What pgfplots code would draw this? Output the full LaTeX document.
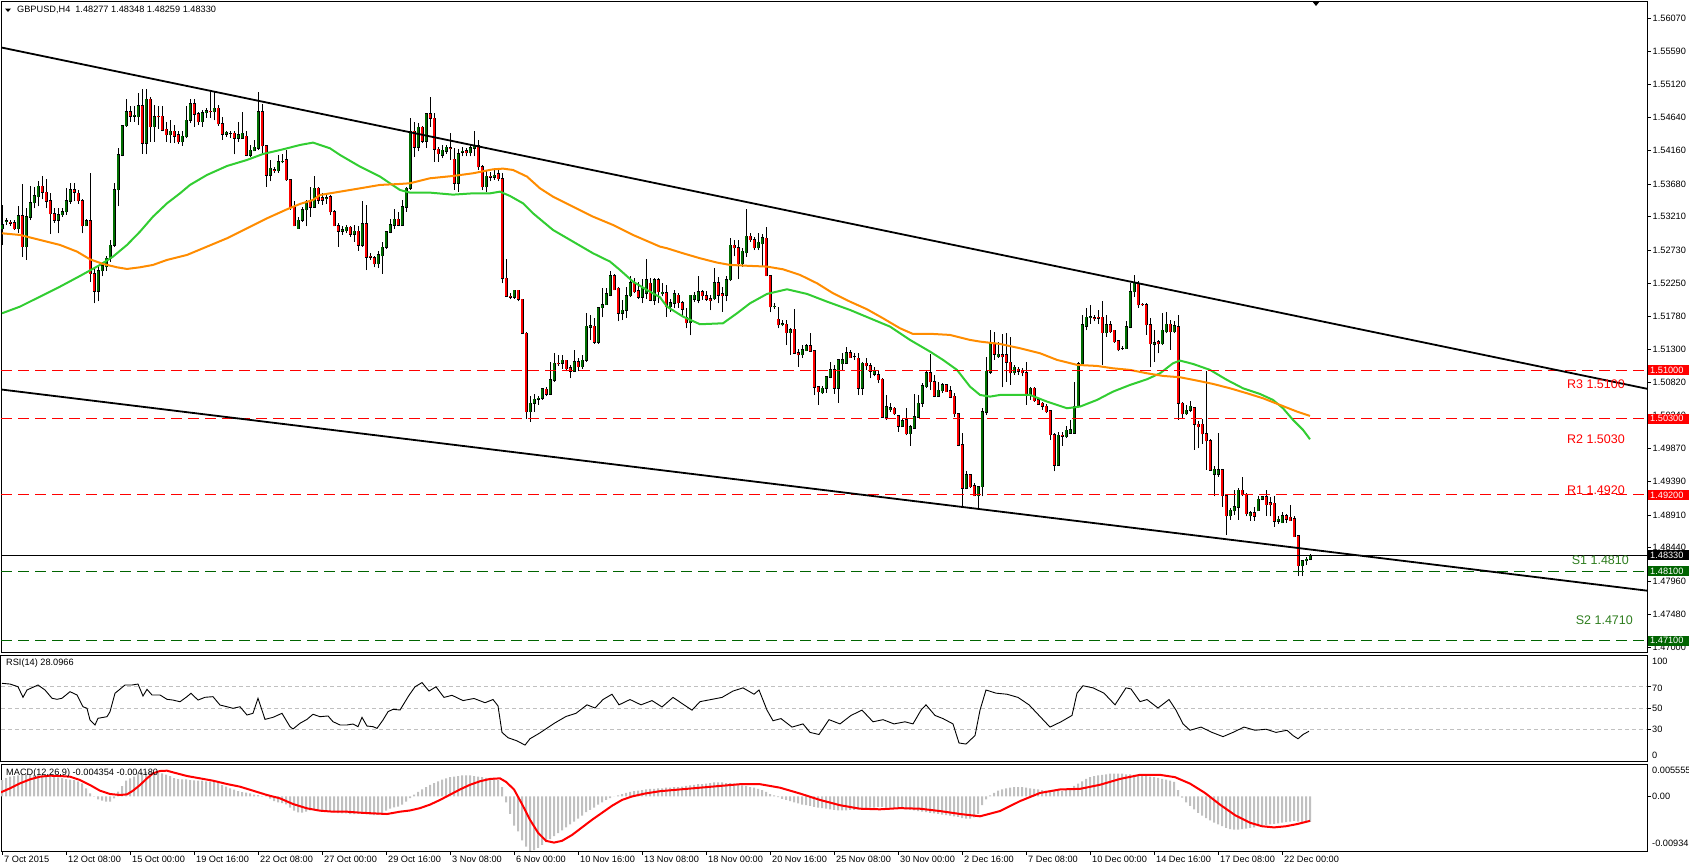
\documentclass[border=0pt]{standalone}
\usepackage{fontspec}
\setmainfont{Liberation Sans}
\usepackage{pgfplots}
\usepackage{pgfplotstable}
\pgfplotsset{compat=1.18}
\definecolor{bull}{RGB}{0,110,0}
\definecolor{bear}{RGB}{255,0,0}
\definecolor{malime}{RGB}{50,205,50}
\definecolor{maorange}{RGB}{255,140,0}
\definecolor{sgreen}{RGB}{0,100,0}
\definecolor{stext}{RGB}{46,125,30}
\definecolor{histgray}{RGB}{192,192,192}
\newcommand\tf{\fontsize{9.2}{11}\selectfont}

\pgfplotstableread{
i o h l c
0 1.5304 1.5338 1.5280 1.5309
1 1.5314 1.5319 1.5309 1.5315
2 1.5313 1.5316 1.5308 1.5312
3 1.5312 1.5316 1.5302 1.5304
4 1.5304 1.5336 1.5297 1.5322
5 1.5322 1.5368 1.5263 1.5278
6 1.5278 1.5333 1.5259 1.5321
7 1.5320 1.5365 1.5316 1.5341
8 1.5341 1.5364 1.5333 1.5351
9 1.5350 1.5372 1.5336 1.5365
10 1.5365 1.5380 1.5346 1.5356
11 1.5356 1.5375 1.5333 1.5343
12 1.5344 1.5355 1.5296 1.5325
13 1.5325 1.5333 1.5312 1.5316
14 1.5316 1.5333 1.5297 1.5324
15 1.5324 1.5333 1.5321 1.5328
16 1.5328 1.5362 1.5324 1.5344
17 1.5343 1.5370 1.5340 1.5360
18 1.5360 1.5369 1.5343 1.5356
19 1.5355 1.5360 1.5340 1.5344
20 1.5344 1.5346 1.5297 1.5308
21 1.5308 1.5317 1.5307 1.5315
22 1.5315 1.5384 1.5227 1.5239
23 1.5239 1.5247 1.5196 1.5214
24 1.5214 1.5249 1.5199 1.5243
25 1.5243 1.5256 1.5235 1.5250
26 1.5249 1.5264 1.5243 1.5261
27 1.5261 1.5288 1.5256 1.5280
28 1.5280 1.5369 1.5278 1.5360
29 1.5360 1.5420 1.5336 1.5410
30 1.5410 1.5453 1.5408 1.5452
31 1.5452 1.5490 1.5451 1.5472
32 1.5472 1.5480 1.5458 1.5466
33 1.5466 1.5480 1.5458 1.5467
34 1.5465 1.5499 1.5453 1.5481
35 1.5481 1.5505 1.5412 1.5427
36 1.5427 1.5505 1.5411 1.5490
37 1.5490 1.5493 1.5429 1.5451
38 1.5451 1.5482 1.5429 1.5465
39 1.5466 1.5480 1.5448 1.5465
40 1.5466 1.5480 1.5444 1.5446
41 1.5447 1.5458 1.5429 1.5439
42 1.5439 1.5460 1.5427 1.5444
43 1.5444 1.5453 1.5427 1.5437
44 1.5439 1.5444 1.5426 1.5429
45 1.5429 1.5444 1.5423 1.5437
46 1.5436 1.5480 1.5434 1.5460
47 1.5460 1.5490 1.5456 1.5484
48 1.5484 1.5490 1.5451 1.5469
49 1.5469 1.5472 1.5453 1.5458
50 1.5458 1.5475 1.5451 1.5471
51 1.5471 1.5477 1.5463 1.5474
52 1.5473 1.5504 1.5463 1.5472
53 1.5472 1.5501 1.5460 1.5477
54 1.5477 1.5482 1.5452 1.5455
55 1.5455 1.5464 1.5432 1.5440
56 1.5440 1.5444 1.5436 1.5443
57 1.5441 1.5444 1.5434 1.5441
58 1.5441 1.5444 1.5411 1.5434
59 1.5434 1.5457 1.5429 1.5439
60 1.5434 1.5472 1.5434 1.5441
61 1.5437 1.5444 1.5408 1.5410
62 1.5410 1.5424 1.5407 1.5417
63 1.5416 1.5432 1.5415 1.5421
64 1.5420 1.5501 1.5417 1.5472
65 1.5472 1.5484 1.5410 1.5423
66 1.5423 1.5423 1.5364 1.5381
67 1.5381 1.5403 1.5372 1.5391
68 1.5389 1.5393 1.5384 1.5388
69 1.5387 1.5410 1.5384 1.5400
70 1.5400 1.5412 1.5398 1.5401
71 1.5403 1.5417 1.5373 1.5374
72 1.5374 1.5376 1.5331 1.5335
73 1.5335 1.5343 1.5307 1.5308
74 1.5304 1.5321 1.5303 1.5316
75 1.5316 1.5335 1.5314 1.5331
76 1.5331 1.5345 1.5307 1.5343
77 1.5345 1.5364 1.5321 1.5335
78 1.5335 1.5379 1.5335 1.5362
79 1.5362 1.5364 1.5340 1.5345
80 1.5348 1.5355 1.5338 1.5345
81 1.5347 1.5355 1.5340 1.5348
82 1.5350 1.5352 1.5323 1.5328
83 1.5328 1.5331 1.5307 1.5308
84 1.5308 1.5312 1.5278 1.5300
85 1.5300 1.5307 1.5295 1.5302
86 1.5301 1.5309 1.5297 1.5306
87 1.5306 1.5307 1.5292 1.5296
88 1.5296 1.5309 1.5285 1.5300
89 1.5300 1.5307 1.5272 1.5280
90 1.5280 1.5344 1.5278 1.5311
91 1.5311 1.5338 1.5244 1.5263
92 1.5264 1.5268 1.5259 1.5263
93 1.5262 1.5264 1.5248 1.5253
94 1.5253 1.5271 1.5247 1.5266
95 1.5265 1.5285 1.5239 1.5277
96 1.5277 1.5300 1.5275 1.5299
97 1.5299 1.5317 1.5297 1.5309
98 1.5309 1.5332 1.5304 1.5317
99 1.5317 1.5328 1.5307 1.5309
100 1.5309 1.5345 1.5308 1.5335
101 1.5335 1.5364 1.5328 1.5362
102 1.5362 1.5463 1.5360 1.5444
103 1.5444 1.5458 1.5407 1.5421
104 1.5421 1.5456 1.5415 1.5450
105 1.5450 1.5452 1.5427 1.5430
106 1.5430 1.5470 1.5420 1.5469
107 1.5469 1.5494 1.5451 1.5463
108 1.5463 1.5470 1.5400 1.5418
109 1.5418 1.5421 1.5400 1.5412
110 1.5410 1.5424 1.5405 1.5417
111 1.5415 1.5424 1.5412 1.5421
112 1.5420 1.5441 1.5403 1.5419
113 1.5404 1.5420 1.5360 1.5369
114 1.5369 1.5418 1.5357 1.5412
115 1.5414 1.5421 1.5408 1.5415
116 1.5416 1.5420 1.5408 1.5413
117 1.5413 1.5424 1.5408 1.5420
118 1.5420 1.5444 1.5408 1.5423
119 1.5423 1.5432 1.5388 1.5393
120 1.5393 1.5396 1.5359 1.5364
121 1.5364 1.5388 1.5357 1.5379
122 1.5379 1.5386 1.5372 1.5378
123 1.5378 1.5391 1.5374 1.5381
124 1.5383 1.5388 1.5372 1.5376
125 1.5376 1.5384 1.5225 1.5232
126 1.5232 1.5260 1.5205 1.5206
127 1.5206 1.5211 1.5202 1.5205
128 1.5205 1.5216 1.5203 1.5215
129 1.5215 1.5216 1.5199 1.5202
130 1.5202 1.5203 1.5152 1.5153
131 1.5153 1.5155 1.5030 1.5040
132 1.5040 1.5062 1.5025 1.5052
133 1.5052 1.5066 1.5040 1.5058
134 1.5058 1.5062 1.5050 1.5059
135 1.5059 1.5074 1.5057 1.5073
136 1.5072 1.5075 1.5062 1.5065
137 1.5065 1.5112 1.5064 1.5086
138 1.5085 1.5124 1.5083 1.5110
139 1.5110 1.5122 1.5106 1.5109
140 1.5110 1.5122 1.5102 1.5114
141 1.5114 1.5115 1.5098 1.5102
142 1.5103 1.5107 1.5088 1.5098
143 1.5098 1.5129 1.5098 1.5112
144 1.5112 1.5117 1.5098 1.5105
145 1.5105 1.5122 1.5102 1.5114
146 1.5114 1.5182 1.5112 1.5163
147 1.5162 1.5179 1.5143 1.5164
148 1.5163 1.5175 1.5138 1.5140
149 1.5140 1.5191 1.5138 1.5190
150 1.5190 1.5218 1.5176 1.5194
151 1.5194 1.5218 1.5194 1.5210
152 1.5208 1.5243 1.5206 1.5236
153 1.5236 1.5239 1.5215 1.5216
154 1.5218 1.5220 1.5170 1.5182
155 1.5182 1.5201 1.5172 1.5186
156 1.5186 1.5219 1.5175 1.5207
157 1.5207 1.5235 1.5205 1.5226
158 1.5226 1.5232 1.5211 1.5213
159 1.5214 1.5227 1.5203 1.5205
160 1.5205 1.5231 1.5196 1.5218
161 1.5211 1.5260 1.5203 1.5230
162 1.5225 1.5232 1.5199 1.5201
163 1.5201 1.5232 1.5194 1.5230
164 1.5230 1.5232 1.5196 1.5213
165 1.5210 1.5225 1.5206 1.5212
166 1.5211 1.5223 1.5177 1.5191
167 1.5191 1.5203 1.5184 1.5197
168 1.5196 1.5216 1.5189 1.5210
169 1.5208 1.5211 1.5190 1.5197
170 1.5197 1.5199 1.5177 1.5188
171 1.5175 1.5189 1.5160 1.5168
172 1.5168 1.5208 1.5150 1.5208
173 1.5202 1.5213 1.5198 1.5208
174 1.5201 1.5236 1.5196 1.5213
175 1.5213 1.5216 1.5201 1.5207
176 1.5207 1.5214 1.5200 1.5202
177 1.5203 1.5208 1.5186 1.5200
178 1.5203 1.5247 1.5201 1.5226
179 1.5226 1.5234 1.5196 1.5208
180 1.5210 1.5220 1.5184 1.5207
181 1.5208 1.5235 1.5199 1.5230
182 1.5230 1.5290 1.5228 1.5280
183 1.5280 1.5288 1.5264 1.5276
184 1.5276 1.5288 1.5231 1.5253
185 1.5253 1.5276 1.5249 1.5271
186 1.5269 1.5332 1.5263 1.5293
187 1.5293 1.5298 1.5285 1.5288
188 1.5288 1.5292 1.5273 1.5276
189 1.5276 1.5297 1.5273 1.5284
190 1.5282 1.5296 1.5249 1.5291
191 1.5290 1.5306 1.5235 1.5236
192 1.5236 1.5237 1.5183 1.5191
193 1.5191 1.5197 1.5188 1.5192
194 1.5173 1.5191 1.5160 1.5165
195 1.5166 1.5172 1.5163 1.5167
196 1.5166 1.5172 1.5136 1.5154
197 1.5154 1.5160 1.5122 1.5158
198 1.5159 1.5188 1.5123 1.5124
199 1.5125 1.5131 1.5105 1.5122
200 1.5122 1.5136 1.5117 1.5129
201 1.5128 1.5138 1.5127 1.5135
202 1.5135 1.5153 1.5127 1.5127
203 1.5128 1.5129 1.5064 1.5075
204 1.5076 1.5077 1.5050 1.5069
205 1.5067 1.5077 1.5066 1.5074
206 1.5074 1.5091 1.5067 1.5090
207 1.5090 1.5111 1.5088 1.5100
208 1.5100 1.5107 1.5066 1.5074
209 1.5074 1.5116 1.5053 1.5115
210 1.5109 1.5124 1.5100 1.5115
211 1.5110 1.5133 1.5109 1.5125
212 1.5125 1.5129 1.5117 1.5118
213 1.5119 1.5125 1.5115 1.5119
214 1.5117 1.5125 1.5064 1.5074
215 1.5074 1.5111 1.5064 1.5110
216 1.5110 1.5117 1.5100 1.5106
217 1.5106 1.5110 1.5088 1.5098
218 1.5094 1.5105 1.5091 1.5099
219 1.5093 1.5100 1.5081 1.5086
220 1.5087 1.5088 1.5031 1.5032
221 1.5032 1.5064 1.5028 1.5047
222 1.5043 1.5053 1.5040 1.5046
223 1.5045 1.5047 1.5035 1.5037
224 1.5034 1.5035 1.5011 1.5019
225 1.5019 1.5030 1.5018 1.5027
226 1.5028 1.5046 1.5006 1.5008
227 1.5008 1.5021 1.4991 1.5018
228 1.5016 1.5066 1.5015 1.5033
229 1.5032 1.5064 1.5031 1.5052
230 1.5052 1.5081 1.5047 1.5077
231 1.5076 1.5099 1.5074 1.5096
232 1.5096 1.5123 1.5071 1.5083
233 1.5083 1.5093 1.5061 1.5062
234 1.5062 1.5083 1.5061 1.5071
235 1.5070 1.5081 1.5067 1.5079
236 1.5079 1.5080 1.5068 1.5069
237 1.5070 1.5077 1.5059 1.5061
238 1.5062 1.5067 1.5032 1.5037
239 1.5037 1.5038 1.4990 1.4992
240 1.4992 1.5009 1.4901 1.4930
241 1.4930 1.4954 1.4928 1.4949
242 1.4949 1.4950 1.4930 1.4932
243 1.4933 1.4937 1.4918 1.4919
244 1.4919 1.4933 1.4901 1.4932
245 1.4932 1.5045 1.4918 1.5040
246 1.5039 1.5119 1.5035 1.5098
247 1.5097 1.5157 1.5095 1.5138
248 1.5138 1.5155 1.5115 1.5123
249 1.5119 1.5141 1.5118 1.5123
250 1.5122 1.5152 1.5075 1.5119
251 1.5122 1.5153 1.5083 1.5111
252 1.5111 1.5147 1.5079 1.5096
253 1.5096 1.5107 1.5093 1.5104
254 1.5101 1.5104 1.5093 1.5098
255 1.5099 1.5103 1.5091 1.5096
256 1.5096 1.5112 1.5050 1.5064
257 1.5064 1.5076 1.5057 1.5074
258 1.5074 1.5076 1.5054 1.5056
259 1.5057 1.5058 1.5050 1.5051
260 1.5052 1.5054 1.5043 1.5048
261 1.5048 1.5051 1.5038 1.5040
262 1.5041 1.5042 1.4999 1.5007
263 1.5007 1.5009 1.4954 1.4963
264 1.4963 1.5010 1.4962 1.5006
265 1.5006 1.5011 1.4991 1.5005
266 1.5004 1.5019 1.5002 1.5013
267 1.5009 1.5028 1.5008 1.5014
268 1.5009 1.5083 1.5008 1.5047
269 1.5047 1.5112 1.5045 1.5109
270 1.5109 1.5179 1.5107 1.5165
271 1.5163 1.5189 1.5157 1.5176
272 1.5176 1.5194 1.5167 1.5177
273 1.5175 1.5179 1.5170 1.5174
274 1.5176 1.5186 1.5166 1.5175
275 1.5176 1.5200 1.5107 1.5154
276 1.5154 1.5179 1.5148 1.5165
277 1.5165 1.5170 1.5154 1.5155
278 1.5157 1.5158 1.5139 1.5141
279 1.5142 1.5143 1.5127 1.5129
280 1.5131 1.5134 1.5129 1.5131
281 1.5131 1.5171 1.5131 1.5162
282 1.5162 1.5225 1.5160 1.5213
283 1.5213 1.5237 1.5205 1.5225
284 1.5225 1.5228 1.5190 1.5194
285 1.5195 1.5197 1.5192 1.5194
286 1.5194 1.5196 1.5151 1.5165
287 1.5165 1.5175 1.5104 1.5138
288 1.5137 1.5158 1.5112 1.5139
289 1.5141 1.5143 1.5124 1.5138
290 1.5138 1.5182 1.5136 1.5157
291 1.5155 1.5183 1.5153 1.5166
292 1.5166 1.5172 1.5129 1.5155
293 1.5155 1.5170 1.5153 1.5164
294 1.5162 1.5179 1.5028 1.5052
295 1.5052 1.5054 1.5031 1.5037
296 1.5037 1.5050 1.5035 1.5042
297 1.5042 1.5056 1.5040 1.5048
298 1.5046 1.5047 1.4985 1.5022
299 1.5022 1.5026 1.4987 1.5018
300 1.5022 1.5029 1.4994 1.5008
301 1.5008 1.5098 1.4956 1.4998
302 1.4998 1.5001 1.4955 1.4956
303 1.4950 1.4961 1.4918 1.4957
304 1.4950 1.5009 1.4946 1.4956
305 1.4956 1.4957 1.4903 1.4919
306 1.4919 1.4920 1.4862 1.4890
307 1.4890 1.4901 1.4884 1.4898
308 1.4897 1.4927 1.4891 1.4903
309 1.4902 1.4930 1.4884 1.4927
310 1.4927 1.4946 1.4918 1.4920
311 1.4921 1.4923 1.4889 1.4893
312 1.4890 1.4897 1.4883 1.4894
313 1.4894 1.4903 1.4883 1.4889
314 1.4897 1.4918 1.4897 1.4914
315 1.4914 1.4918 1.4912 1.4917
316 1.4917 1.4927 1.4890 1.4906
317 1.4909 1.4917 1.4889 1.4906
318 1.4908 1.4919 1.4874 1.4882
319 1.4882 1.4890 1.4878 1.4885
320 1.4880 1.4896 1.4879 1.4890
321 1.4890 1.4893 1.4880 1.4885
322 1.4888 1.4906 1.4883 1.4883
323 1.4886 1.4889 1.4859 1.4860
324 1.4861 1.4862 1.4803 1.4818
325 1.4818 1.4826 1.4803 1.4825
326 1.4825 1.4831 1.4819 1.4827
327 1.48277 1.48348 1.48259 1.48330
}\candles

\pgfplotstableread{
x y
2 1.51818
20 1.51914
40 1.52058
60 1.52202
80 1.52356
100 1.52515
113 1.52635
127 1.52803
140 1.52995
153 1.53211
167 1.53403
180 1.53547
190 1.53668
207 1.53812
227 1.53941
247 1.54028
263 1.54114
283 1.54181
300 1.54244
313 1.54278
330 1.54196
340 1.54100
360 1.53932
380 1.53788
400 1.53595
410 1.53557
430 1.53557
453 1.53528
473 1.53547
490 1.53547
500 1.53571
510 1.53509
523 1.53403
533 1.53259
553 1.53019
573 1.52851
593 1.52683
610 1.52563
620 1.52442
633 1.52274
647 1.52154
660 1.52049
667 1.51914
683 1.51770
700 1.51660
723 1.51674
737 1.51818
750 1.51962
767 1.52097
787 1.52164
807 1.52097
827 1.51986
850 1.51866
870 1.51746
890 1.51626
910 1.51434
930 1.51266
943 1.51146
957 1.51002
970 1.50761
980 1.50641
990 1.50617
1000 1.50641
1030 1.50641
1047 1.50545
1067 1.50449
1080 1.50473
1097 1.50569
1113 1.50689
1130 1.50785
1147 1.50867
1160 1.50953
1173 1.51098
1180 1.51136
1193 1.51088
1210 1.51002
1227 1.50857
1243 1.50737
1260 1.50655
1273 1.50569
1283 1.50449
1293 1.50281
1303 1.50137
1310 1.50002
}\magreen

\pgfplotstableread{
x y
2 1.52971
20 1.52947
40 1.52875
60 1.52803
77 1.52707
90 1.52596
103 1.52529
117 1.52481
127 1.52457
140 1.52481
153 1.52515
167 1.52587
187 1.52659
207 1.52779
227 1.52899
247 1.53043
267 1.53187
287 1.53317
300 1.53394
313 1.53451
320 1.53523
340 1.53571
360 1.53619
380 1.53668
400 1.53682
410 1.53692
430 1.53764
453 1.53797
473 1.53836
493 1.53893
503 1.53903
513 1.53884
527 1.53788
540 1.53619
553 1.53499
573 1.53355
593 1.53211
613 1.53091
633 1.52947
660 1.52779
667 1.52755
683 1.52683
700 1.52611
717 1.52549
730 1.52515
750 1.52501
767 1.52491
783 1.52452
800 1.52371
817 1.52251
833 1.52107
850 1.51986
867 1.51876
883 1.51746
900 1.51602
913 1.51520
933 1.51520
950 1.51506
970 1.51434
980 1.51410
1000 1.51376
1020 1.51314
1040 1.51242
1057 1.51146
1077 1.51074
1097 1.51059
1113 1.51025
1130 1.51002
1147 1.50953
1163 1.50915
1180 1.50896
1197 1.50848
1213 1.50800
1230 1.50737
1247 1.50665
1263 1.50593
1280 1.50497
1297 1.50401
1310 1.50339
}\maorange

\pgfplotstableread{
x r
2 73.3
10 72.6
18 70.1
23 60.1
27 67.0
38 71.7
45 67.0
52 59.2
57 58.2
62 59.2
70 65.4
77 62.3
83 51.2
87 49.7
90 38.7
95 34.0
98 40.3
107 41.8
110 46.5
115 63.9
125 71.7
132 71.7
138 72.6
143 61.3
147 67.6
152 62.3
160 62.3
167 58.2
173 57.5
180 55.9
187 60.7
191 63.9
198 57.5
205 60.1
213 60.7
220 52.8
227 51.2
233 49.7
240 51.2
247 43.4
253 45.0
258 59.2
265 39.3
273 41.2
282 45.0
290 32.4
293 30.2
300 35.6
307 39.3
313 44.1
320 41.8
328 42.5
333 37.1
340 34.0
347 34.0
353 34.9
358 32.4
362 41.2
367 33.0
373 32.4
377 30.8
383 38.7
388 46.5
393 48.8
400 48.1
409 62
415 70
422 74
429 66
436 70
444 60
452 62
463 57
474 59
485 55
493 58
498 52
502 27
508 22
517 19
525 15
530 21
539 26
547 31
555 36
566 42
576 45
587 53
595 50
603 58
612 63
619 53
630 58
641 53
652 57
662 51
673 60
684 53
692 48
700 56
711 58
722 60
733 66
743 69
754 63
759 67
767 48
773 38
781 40
792 32
803 35
810 27
819 25
829 39
840 35
851 43
862 48
873 37
883 39
894 35
905 37
913 35
921 48
926 53
935 43
943 40
953 35
959 17
966 16
975 24
980 48
986 67
996 64
1007 63
1018 60
1029 53
1039 43
1050 32
1061 37
1072 43
1077 64
1083 71
1093 69
1104 64
1115 53
1126 69
1131 68
1140 56
1147 58
1158 50
1169 58
1176 48
1183 35
1190 29
1201 32
1212 27
1223 23
1233 27
1244 32
1255 29
1266 30
1276 27
1287 29
1293 24
1298 21
1303 25
1309 28.1
}\rsi

\pgfplotstableread{
i v
0 0.002814
1 0.003157
2 0.003385
3 0.003499
4 0.003613
5 0.003728
6 0.003785
7 0.003785
8 0.003670
9 0.003670
10 0.003670
11 0.003613
12 0.003556
13 0.003499
14 0.003271
15 0.003157
16 0.002985
17 0.002871
18 0.002814
19 0.002586
20 0.002243
21 0.001387
22 0.000531
23 -0.000040
24 -0.000496
25 -0.000725
26 -0.000896
27 -0.000896
28 -0.000325
29 0.000817
30 0.001787
31 0.002700
32 0.003100
33 0.003385
34 0.003842
35 0.004070
36 0.004241
37 0.004241
38 0.004184
39 0.004070
40 0.003956
41 0.003728
42 0.003499
43 0.003157
44 0.002985
45 0.002928
46 0.002928
47 0.002814
48 0.002757
49 0.002700
50 0.002700
51 0.002586
52 0.002529
53 0.002472
54 0.002300
55 0.001958
56 0.001673
57 0.001387
58 0.001159
59 0.000931
60 0.000760
61 0.000645
62 0.000531
63 0.000303
64 0.000246
65 0.000075
66 -0.000040
67 -0.000382
68 -0.000782
69 -0.001010
70 -0.001124
71 -0.001353
72 -0.001924
73 -0.002437
74 -0.002723
75 -0.002780
76 -0.002608
77 -0.002380
78 -0.002209
79 -0.002266
80 -0.002380
81 -0.002437
82 -0.002608
83 -0.002723
84 -0.002837
85 -0.002894
86 -0.002894
87 -0.003008
88 -0.003008
89 -0.002951
90 -0.002894
91 -0.003008
92 -0.003122
93 -0.003179
94 -0.003122
95 -0.002894
96 -0.002437
97 -0.002094
98 -0.001866
99 -0.001752
100 -0.0014
101 -0.0009
102 -0.0003
103 0.0003
104 0.0008
105 0.0012
106 0.0016
107 0.0020
108 0.0023
109 0.0026
110 0.0029
111 0.0031
112 0.0033
113 0.0034
114 0.0035
115 0.0036
116 0.0036
117 0.0036
118 0.0035
119 0.0034
120 0.0033
121 0.0032
122 0.0031
123 0.0030
124 0.0028
125 0.0016
126 -0.0010
127 -0.0030
128 -0.0050
129 -0.0060
130 -0.0075
131 -0.0086
132 -0.0093
133 -0.0092
134 -0.0088
135 -0.0083
136 -0.0078
137 -0.0073
138 -0.0068
139 -0.0063
140 -0.0058
141 -0.0053
142 -0.0048
143 -0.0043
144 -0.0038
145 -0.0033
146 -0.0027
147 -0.0023
148 -0.0019
149 -0.0014
150 -0.0010
151 -0.0006
152 -0.0003
153 0.0000
154 0.0002
155 0.0004
156 0.0006
157 0.0008
158 0.0009
159 0.0010
160 0.0011
161 0.0012
162 0.0013
163 0.0013
164 0.0014
165 0.0014
166 0.0015
167 0.0015
168 0.0016
169 0.0016
170 0.0017
171 0.0018
172 0.0019
173 0.0020
174 0.0021
175 0.0021
176 0.0022
177 0.0023
178 0.0024
179 0.0024
180 0.0024
181 0.0023
182 0.0023
183 0.0022
184 0.0021
185 0.0019
186 0.0018
187 0.0016
188 0.0015
189 0.0013
190 0.0011
191 0.0008
192 0.0004
193 0.0002
194 -0.0001
195 -0.0004
196 -0.0006
197 -0.0008
198 -0.0010
199 -0.0012
200 -0.0014
201 -0.0015
202 -0.0016
203 -0.0018
204 -0.0019
205 -0.0020
206 -0.0021
207 -0.0022
208 -0.0023
209 -0.0024
210 -0.0024
211 -0.0024
212 -0.0023
213 -0.0023
214 -0.0022
215 -0.0021
216 -0.0020
217 -0.0019
218 -0.0019
219 -0.0018
220 -0.0018
221 -0.0019
222 -0.0019
223 -0.0020
224 -0.0020
225 -0.0021
226 -0.0022
227 -0.0023
228 -0.0024
229 -0.0025
230 -0.0026
231 -0.0027
232 -0.0028
233 -0.0029
234 -0.0030
235 -0.0031
236 -0.0032
237 -0.0033
238 -0.0034
239 -0.0035
240 -0.0037
241 -0.0038
242 -0.0038
243 -0.0036
244 -0.0030
245 -0.0015
246 -0.0005
247 0.0002
248 0.0006
249 0.0010
250 0.0012
251 0.0014
252 0.0015
253 0.0016
254 0.0016
255 0.0016
256 0.0015
257 0.0014
258 0.0013
259 0.0012
260 0.0011
261 0.0010
262 0.0010
263 0.0009
264 0.0009
265 0.0009
266 0.0011
267 0.0014
268 0.0018
269 0.0022
270 0.0026
271 0.0030
272 0.0033
273 0.0035
274 0.0036
275 0.0037
276 0.0038
277 0.0039
278 0.0039
279 0.0039
280 0.0039
281 0.0038
282 0.0038
283 0.0037
284 0.0036
285 0.0036
286 0.0035
287 0.0034
288 0.0033
289 0.0032
290 0.0030
291 0.0029
292 0.0027
293 0.0025
294 0.0011
295 -0.0002
296 -0.0010
297 -0.0016
298 -0.0022
299 -0.0028
300 -0.0033
301 -0.0037
302 -0.0041
303 -0.0045
304 -0.0048
305 -0.0051
306 -0.0054
307 -0.0056
308 -0.0057
309 -0.0057
310 -0.0056
311 -0.0055
312 -0.0054
313 -0.0053
314 -0.0051
315 -0.0050
316 -0.0049
317 -0.0048
318 -0.0047
319 -0.0046
320 -0.0045
321 -0.0044
322 -0.0043
323 -0.0042
324 -0.0043
325 -0.0044
326 -0.0044
327 -0.004354
}\macdh

\pgfplotstableread{
x s
0 0.000645
10 0.001387
20 0.002243
30 0.002928
40 0.003385
50 0.003556
60 0.003499
70 0.003385
80 0.002814
90 0.001958
100 0.000988
110 0.000417
120 0.000246
127 0.000360
133 0.000988
140 0.001958
147 0.003100
153 0.003956
160 0.004355
167 0.004412
173 0.004127
187 0.003499
200 0.003100
213 0.002700
227 0.002129
240 0.001673
253 0.000988
267 0.000246
280 -0.000325
293 -0.001296
307 -0.002038
320 -0.002437
333 -0.002608
347 -0.002608
360 -0.002780
373 -0.002894
387 -0.003008
400 -0.002608
410 -0.0024
420 -0.0020
430 -0.0014
440 -0.0006
450 0.0003
460 0.0012
470 0.0020
480 0.0026
490 0.0030
500 0.0031
506 0.0025
514 0.0012
522 -0.0013
530 -0.0040
538 -0.0062
546 -0.0076
554 -0.0079
562 -0.0076
572 -0.0066
582 -0.0053
592 -0.0040
602 -0.0028
612 -0.0016
622 -0.0006
632 0.0000
645 0.0005
660 0.0009
680 0.0012
700 0.0015
720 0.0018
740 0.0021
760 0.0021
780 0.0015
800 0.0005
820 -0.0006
840 -0.0015
860 -0.0021
880 -0.0022
900 -0.0020
920 -0.0021
940 -0.0025
960 -0.0030
980 -0.0034
1000 -0.0025
1020 -0.0008
1040 0.0006
1060 0.0012
1080 0.0013
1100 0.0020
1120 0.0030
1140 0.0037
1160 0.0037
1175 0.0033
1190 0.0022
1205 0.0006
1220 -0.0014
1235 -0.0032
1250 -0.0045
1262 -0.0051
1274 -0.0053
1286 -0.0051
1298 -0.0047
1310 -0.00418
}\macds

\pgfplotsset{
  mt/.style={scale only axis, width=1646pt, xmin=1, xmax=1647,
    axis line style={line width=1pt}, every tick/.style={black, line width=0.8pt},
    major tick length=3.5pt, tick align=outside, ytick pos=right, xtick pos=bottom,
    clip mode=individual, scaled y ticks=false, scaled x ticks=false,
    ticklabel style={font=\tf, text=black}},
}

\begin{document}
\begin{tikzpicture}
\useasboundingbox (0pt,0pt) rectangle (1689pt,-865pt);

% ---------------- main price panel
\begin{axis}[mt, at={(1pt,-1pt)}, anchor=north west, height=651pt,
  ymin=1.46936, ymax=1.56319, xtick=\empty,
  ytick={1.5607,1.5559,1.5512,1.5464,1.5416,1.5368,1.5321,1.5273,1.5225,1.5178,1.5130,1.5082,1.5034,1.4987,1.4939,1.4891,1.4844,1.4796,1.4748,1.4700},
  yticklabels={1.56070,1.55590,1.55120,1.54640,1.54160,1.53680,1.53210,1.52730,1.52250,1.51780,1.51300,1.50820,1.50340,1.49870,1.49390,1.48910,1.48440,1.47960,1.47480,1.47000},
  yticklabel style={anchor=west, inner sep=0pt, xshift=2pt}]
% wicks
\addplot[black, line width=1pt, quiver={u=0, v={\thisrow{h}-\thisrow{l}}}]
  table[x expr={2+4*\thisrow{i}}, y=l] {\candles};
% body outlines
\addplot[black, line width=3pt, quiver={u=0, v={abs(\thisrow{c}-\thisrow{o})+0.00016}}]
  table[x expr={2+4*\thisrow{i}}, y expr={min(\thisrow{o},\thisrow{c})-0.00008}] {\candles};
% bull bodies
\addplot[bull, line width=1.3pt, quiver={u=0, v={\thisrow{c}-\thisrow{o}}}]
  table[x expr={\thisrow{c}>\thisrow{o} ? 2+4*\thisrow{i} : -100}, y=o] {\candles};
% bear bodies
\addplot[bear, line width=1.3pt, quiver={u=0, v={\thisrow{c}-\thisrow{o}}}]
  table[x expr={\thisrow{c}<\thisrow{o} ? 2+4*\thisrow{i} : -100}, y=o] {\candles};
% moving averages
\addplot[malime, line width=2pt] table[x=x, y=y] {\magreen};
\addplot[maorange, line width=2pt] table[x=x, y=y] {\maorange};
% levels
\addplot[red, line width=1pt, dash pattern=on 11pt off 6pt] coordinates {(1,1.5100) (1647,1.5100)};
\addplot[red, line width=1pt, dash pattern=on 11pt off 6pt] coordinates {(1,1.5030) (1647,1.5030)};
\addplot[red, line width=1pt, dash pattern=on 11pt off 6pt] coordinates {(1,1.4920) (1647,1.4920)};
\addplot[sgreen, line width=1pt, dash pattern=on 11pt off 6pt] coordinates {(1,1.4810) (1647,1.4810)};
\addplot[sgreen, line width=1pt, dash pattern=on 11pt off 6pt] coordinates {(1,1.4710) (1647,1.4710)};
\addplot[black, line width=0.8pt] coordinates {(1,1.4833) (1647,1.4833)};
% channel
\addplot[black, line width=1.8pt] coordinates {(1,1.5565) (1647,1.5073)};
\addplot[black, line width=1.8pt] coordinates {(1,1.5072) (1647,1.4782)};
% level texts
\node[anchor=east, text=red, font=\fontsize{12.5}{14}\selectfont, inner sep=0pt] at (axis cs:1625,1.50799) {R3 1.5100};
\node[anchor=east, text=red, font=\fontsize{12.5}{14}\selectfont, inner sep=0pt] at (axis cs:1625,1.50002) {R2 1.5030};
\node[anchor=east, text=red, font=\fontsize{12.5}{14}\selectfont, inner sep=0pt] at (axis cs:1625,1.49271) {R1 1.4920};
\node[anchor=east, text=stext, font=\fontsize{12.5}{14}\selectfont, inner sep=0pt] at (axis cs:1629,1.48262) {S1 1.4810};
\node[anchor=east, text=stext, font=\fontsize{12.5}{14}\selectfont, inner sep=0pt] at (axis cs:1633,1.47397) {S2 1.4710};
\coordinate (b1) at (axis cs:1647,1.5100);
\coordinate (b2) at (axis cs:1647,1.5030);
\coordinate (b3) at (axis cs:1647,1.4920);
\coordinate (b4) at (axis cs:1647,1.4833);
\coordinate (b5) at (axis cs:1647,1.4810);
\coordinate (b6) at (axis cs:1647,1.4710);
\end{axis}

% price boxes
\tikzset{lvl/.style={anchor=west, inner xsep=2pt, inner ysep=0pt, minimum height=10pt, text width=37pt, text=white, font=\tf}}
\node[lvl, fill=red] at ([xshift=1pt]b1) {1.51000};
\node[lvl, fill=red] at ([xshift=1pt]b2) {1.50300};
\node[lvl, fill=red] at ([xshift=1pt]b3) {1.49200};
\node[lvl, fill=black] at ([xshift=1pt]b4) {1.48330};
\node[lvl, fill=sgreen] at ([xshift=1pt]b5) {1.48100};
\node[lvl, fill=sgreen] at ([xshift=1pt]b6) {1.47100};

% title
\fill[black] (5pt,-8.5pt) -- (11pt,-8.5pt) -- (8pt,-12pt) -- cycle;
\node[anchor=west, inner sep=0pt, font=\tf] at (17pt,-10pt) {GBPUSD,H4\hspace{5pt}1.48277 1.48348 1.48259 1.48330};
\fill[black] (1312pt,-1pt) -- (1320pt,-1pt) -- (1316pt,-6pt) -- cycle;

% ---------------- RSI panel
\begin{axis}[mt, at={(1pt,-655pt)}, anchor=north west, height=106pt,
  ymin=0, ymax=100, xtick=\empty, ytick={70,50,30}, yticklabels=\empty]
\addplot[histgray, line width=0.8pt, dash pattern=on 4pt off 3pt] coordinates {(1,70) (1647,70)};
\addplot[histgray, line width=0.8pt, dash pattern=on 4pt off 3pt] coordinates {(1,50) (1647,50)};
\addplot[histgray, line width=0.8pt, dash pattern=on 4pt off 3pt] coordinates {(1,30) (1647,30)};
\addplot[black, line width=0.9pt] table[x=x, y=r] {\rsi};
\end{axis}
\node[anchor=west, inner sep=0pt, font=\tf] at (6pt,-663pt) {RSI(14) 28.0966};
\node[anchor=west, inner sep=0pt, font=\tf] at (1652pt,-661pt) {100};
\node[anchor=west, inner sep=0pt, font=\tf] at (1652pt,-688pt) {70};
\node[anchor=west, inner sep=0pt, font=\tf] at (1652pt,-708pt) {50};
\node[anchor=west, inner sep=0pt, font=\tf] at (1652pt,-729pt) {30};
\node[anchor=west, inner sep=0pt, font=\tf] at (1652pt,-755pt) {0};

% ---------------- MACD panel
\begin{axis}[mt, at={(1pt,-764pt)}, anchor=north west, height=87pt,
  ymin=-0.009342, ymax=0.005555, ytick={0}, yticklabels=\empty,
  xtick={2,66,130,194,258,322,386,450,514,578,642,706,770,834,898,962,1026,1090,1154,1218,1282},
  xticklabels={7 Oct 2015,12 Oct 08:00,15 Oct 00:00,19 Oct 16:00,22 Oct 08:00,27 Oct 00:00,29 Oct 16:00,3 Nov 08:00,6 Nov 00:00,10 Nov 16:00,13 Nov 08:00,18 Nov 00:00,20 Nov 16:00,25 Nov 08:00,30 Nov 00:00,2 Dec 16:00,7 Dec 08:00,10 Dec 00:00,14 Dec 16:00,17 Dec 08:00,22 Dec 00:00},
  xticklabel style={anchor=north west, inner sep=0pt, xshift=2pt, yshift=-1pt}]
\addplot[ybar, bar width=2pt, fill=histgray, draw=none] table[x expr={2+4*\thisrow{i}}, y=v] {\macdh};
\addplot[red, line width=2pt] table[x=x, y=s] {\macds};
\end{axis}
\node[anchor=west, inner sep=0pt, font=\tf] at (6pt,-773pt) {MACD(12,26,9) -0.004354 -0.004180};
\node[anchor=west, inner sep=0pt, font=\tf] at (1652pt,-770pt) {0.005555};
\node[anchor=west, inner sep=0pt, font=\tf] at (1652pt,-796pt) {0.00};
\node[anchor=west, inner sep=0pt, font=\tf] at (1652pt,-843pt) {-0.00934};
\end{tikzpicture}
\end{document}
